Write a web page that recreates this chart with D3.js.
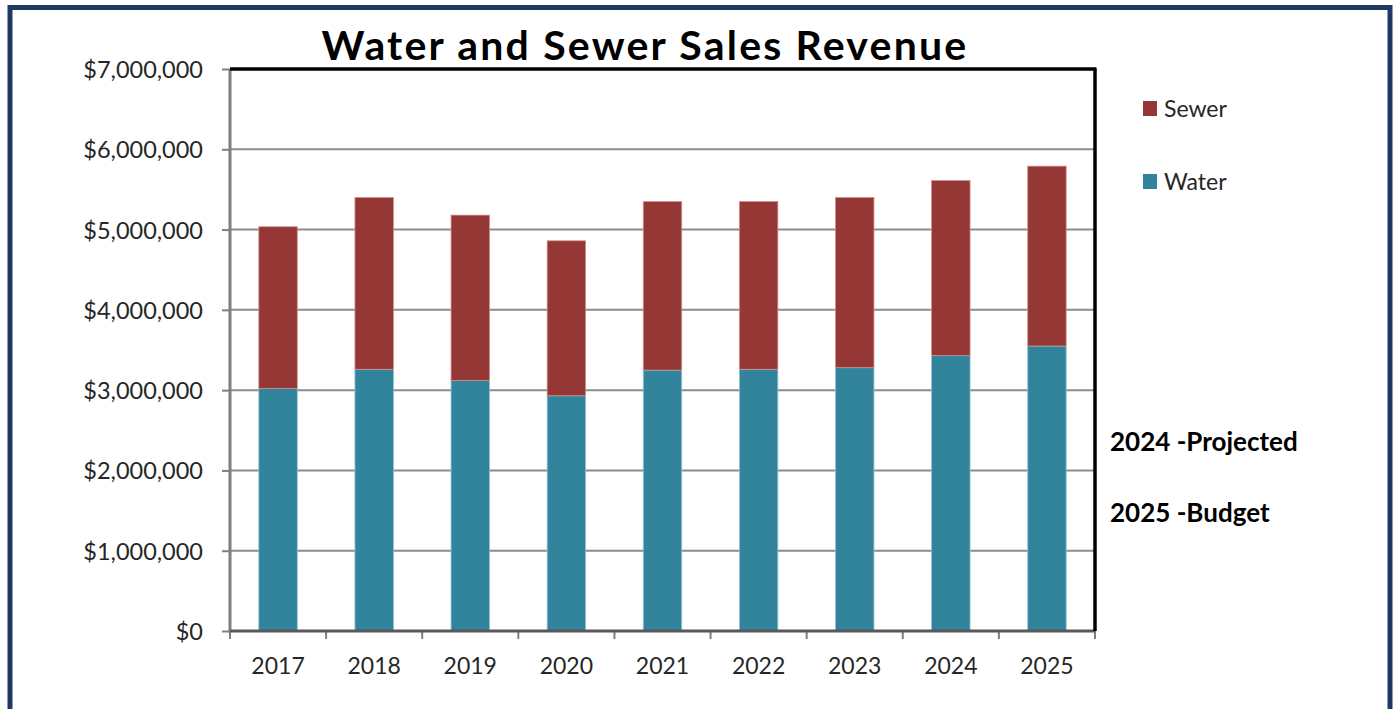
<!DOCTYPE html>
<html>
<head>
<meta charset="utf-8">
<script src="https://cdn.jsdelivr.net/npm/d3@7"></script>
<style>
  body { margin: 0; background: #fff; }
  svg { display: block; font-family: Lato, "Open Sans", sans-serif; }
</style>
</head>
<body>
<div id="chart"></div>
<script>
// values
const years = ['2017', '2018', '2019', '2020', '2021', '2022', '2023', '2024', '2025'];
const water = [3020000, 3260000, 3120000, 2930000, 3250000, 3260000, 3280000, 3430000, 3550000];
const sewer = [2015000, 2140000, 2060000, 1930000, 2100000, 2090000, 2120000, 2180000, 2240000];
const yTicks = [0, 1000000, 2000000, 3000000, 4000000, 5000000, 6000000, 7000000];
const notes = ['2024 -Projected', '2025 -Budget'];

const W = 1395, H = 709;
const margin = { top: 69, right: 300, bottom: 78, left: 230 };
const width = W - margin.left - margin.right;
const height = H - margin.top - margin.bottom;

const colors = { water: '#31849b', sewer: '#953735' };

const svg = d3.select('#chart')
  .append('svg')
  .attr('width', W)
  .attr('height', H);

// outer frame
svg.append('rect')
  .attr('x', 10).attr('y', 7.5)
  .attr('width', 1380).attr('height', 730)
  .attr('fill', '#fff')
  .attr('stroke', '#1f3864')
  .attr('stroke-width', 5);

const g = svg.append('g')
  .attr('transform', `translate(${margin.left}, ${margin.top})`);

const x = d3.scaleBand()
  .domain(years)
  .range([0, width])
  .paddingInner(0.6)
  .paddingOuter(0.3);

const y = d3.scaleLinear()
  .domain([0, 7000000])
  .range([height, 0]);

// gridlines
g.selectAll('.grid')
  .data(yTicks.slice(1))
  .enter()
  .append('line')
  .attr('class', 'grid')
  .attr('x1', 0)
  .attr('x2', width)
  .attr('y1', d => y(d))
  .attr('y2', d => y(d))
  .attr('stroke', '#8c8c8c')
  .attr('stroke-width', 2);

const data = years.map((d, i) => ({ year: d, water: water[i], sewer: sewer[i] }));
const stack = d3.stack().keys(['water', 'sewer'])(data);

const layer = g.selectAll('.layer')
  .data(stack)
  .enter()
  .append('g')
  .attr('class', 'layer')
  .attr('fill', d => colors[d.key])
  .attr('stroke', d => d.key === 'water' ? '#8fc3d1' : '#cf8f8d')
  .attr('stroke-width', 0.8);

layer.selectAll('rect')
  .data(d => d)
  .enter()
  .append('rect')
  .attr('x', d => x(d.data.year))
  .attr('y', d => y(d[1]))
  .attr('width', x.bandwidth())
  .attr('height', d => y(d[0]) - y(d[1]));

// y axis
const yAxis = g.append('g')
  .call(d3.axisLeft(y).tickValues(yTicks).tickFormat(d3.format('$,.0f')).tickSize(8).tickPadding(19));
yAxis.select('.domain').remove();
yAxis.selectAll('.tick line').attr('stroke', '#7f7f7f').attr('stroke-width', 2);
yAxis.selectAll('.tick text')
  .attr('fill', '#262626')
  .style('font-size', '23.5px')
  .style('font-family', 'Lato, sans-serif')
  .attr('dy', '0.36em');

// x axis: ticks on band edges
const xAxis = g.append('g')
  .attr('transform', `translate(0, ${height})`);
xAxis.selectAll('line')
  .data(years.concat(['end']))
  .enter()
  .append('line')
  .attr('x1', (d, i) => i * x.step())
  .attr('x2', (d, i) => i * x.step())
  .attr('y1', 0)
  .attr('y2', 8)
  .attr('stroke', '#7f7f7f')
  .attr('stroke-width', 2);
xAxis.selectAll('text')
  .data(years)
  .enter()
  .append('text')
  .attr('x', d => x(d) + x.bandwidth() / 2)
  .attr('y', 43)
  .attr('text-anchor', 'middle')
  .attr('fill', '#262626')
  .style('font-size', '23px')
  .text(d => d);

// frame of plot area
g.append('line')
  .attr('x1', 0).attr('x2', 0).attr('y1', 0).attr('y2', height)
  .attr('stroke', '#7f7f7f').attr('stroke-width', 3);
g.append('line')
  .attr('x1', 0).attr('x2', width).attr('y1', height).attr('y2', height)
  .attr('stroke', '#595959').attr('stroke-width', 3);
g.append('line')
  .attr('x1', 0).attr('x2', width + 1.5).attr('y1', 0).attr('y2', 0)
  .attr('stroke', '#000').attr('stroke-width', 3.5);
g.append('line')
  .attr('x1', width).attr('x2', width).attr('y1', 0).attr('y2', height)
  .attr('stroke', '#000').attr('stroke-width', 3.5);

// title
svg.append('text')
  .attr('x', 645)
  .attr('y', 60)
  .attr('text-anchor', 'middle')
  .style('font-size', '41px')
  .style('font-weight', 'bold')
  .style('letter-spacing', '2.2px')
  .attr('fill', '#000')
  .text('Water and Sewer Sales Revenue');

// legend
const legend = svg.append('g')
  .attr('transform', 'translate(1143, 101)');
const legendItems = legend.selectAll('g')
  .data(['sewer', 'water'])
  .enter()
  .append('g')
  .attr('transform', (d, i) => `translate(0, ${i * 73})`);
legendItems.append('rect')
  .attr('width', 14)
  .attr('height', 15)
  .attr('fill', d => colors[d]);
legendItems.append('text')
  .attr('x', 21)
  .attr('y', 16)
  .attr('fill', '#262626')
  .style('font-size', '23px')
  .text(d => d === 'sewer' ? 'Sewer' : 'Water');

// notes
svg.selectAll('.note')
  .data(notes)
  .enter()
  .append('text')
  .attr('class', 'note')
  .attr('x', 1110)
  .attr('y', (d, i) => 451 + i * 71)
  .style('font-size', '26px')
  .style('font-weight', 'bold')
  .attr('fill', '#000')
  .text(d => d);
</script>
</body>
</html>
